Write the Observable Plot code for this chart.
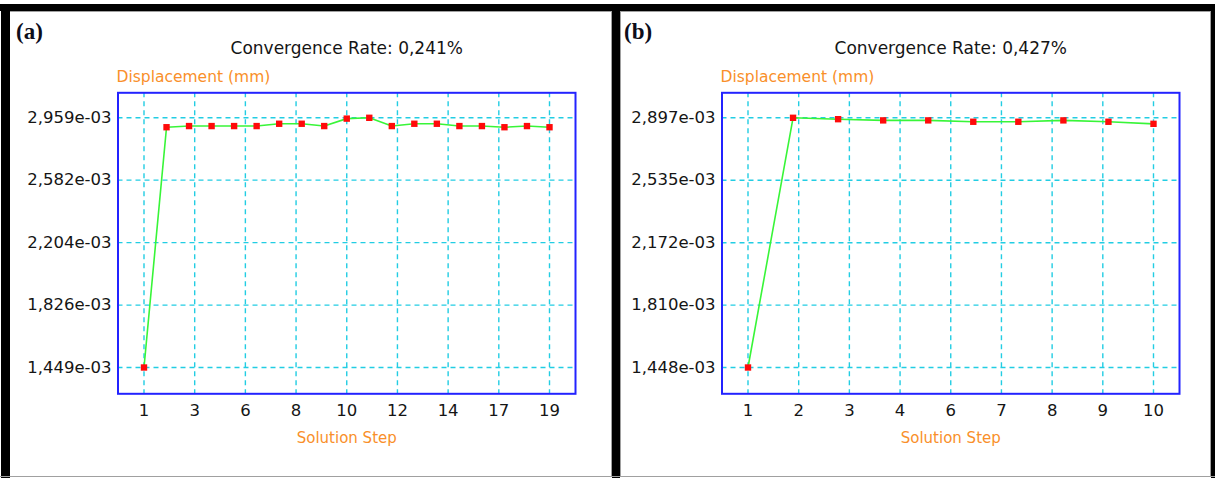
<!DOCTYPE html>
<html><head><meta charset="utf-8">
<script src="https://cdn.jsdelivr.net/npm/d3@7"></script>
<script src="https://cdn.jsdelivr.net/npm/@observablehq/plot@0.6"></script>
<style>
html,body{margin:0;padding:0;background:#fff;}
#root{position:relative;width:1215px;height:478px;overflow:hidden;background:#fff;}
.band{position:absolute;background:#000;z-index:3;}
.gray{position:absolute;background:#a0a0a0;z-index:3;}
.panel{position:absolute;top:11px;z-index:1;}
.panel svg{display:block;max-width:none;background:transparent;}
</style></head><body><div id="root"></div>
<script>
// ---- Panel (a) data ----
const stepsA = [1,2,3,4,5,6,7,8,9,10,11,12,13,14,15,16,17,18,19];
const displacementA = [1.449e-3,2.902e-3,2.909e-3,2.909e-3,2.909e-3,2.909e-3,2.923e-3,2.923e-3,2.909e-3,2.954e-3,2.959e-3,2.909e-3,2.923e-3,2.923e-3,2.909e-3,2.909e-3,2.902e-3,2.909e-3,2.902e-3];
const xGridA = [1,3.25,5.5,7.75,10,12.25,14.5,16.75,19];
const xLabelsA = ["1","3","6","8","10","12","14","17","19"];
const yGridA = [1.449e-3,1.826e-3,2.204e-3,2.582e-3,2.959e-3];
const yLabelsA = ["1,449e-03","1,826e-03","2,204e-03","2,582e-03","2,959e-03"];
const titleA = "Convergence Rate: 0,241%";

// ---- Panel (b) data ----
const stepsB = [1,2,3,4,5,6,7,8,9,10];
const displacementB = [1.448e-3,2.897e-3,2.889e-3,2.882e-3,2.882e-3,2.874e-3,2.874e-3,2.882e-3,2.874e-3,2.862e-3];
const xGridB = [1,2.125,3.25,4.375,5.5,6.625,7.75,8.875,10];
const xLabelsB = ["1","2","3","4","6","7","8","9","10"];
const yGridB = [1.448e-3,1.810e-3,2.172e-3,2.535e-3,2.897e-3];
const yLabelsB = ["1,448e-03","1,810e-03","2,172e-03","2,535e-03","2,897e-03"];
const titleB = "Convergence Rate: 0,427%";

const yLabelText = "Displacement (mm)";
const xLabelText = "Solution Step";

const COL = {grid:"#22cde3", frame:"#2323ff", line:"#38f538", dot:"#ff0a0a", orange:"#f98f2a", text:"#151515"};
const FONT = "DejaVu Sans, Verdana, sans-serif";

function panel(cfg){
  const xMap = new Map(cfg.xGrid.map((v,i)=>[v,cfg.xLabels[i]]));
  const yMap = new Map(cfg.yGrid.map((v,i)=>[v,cfg.yLabels[i]]));
  const data = cfg.steps.map((s,i)=>({step:s, value:cfg.values[i]}));
  return Plot.plot({
    width: 600, height: 465,
    marginLeft: 107.5, marginRight: 35, marginTop: 81.3, marginBottom: 82.7,
    style: {fontFamily: FONT, fontSize: "16.5px", background: "transparent", overflow: "visible"},
    x: {domain: [cfg.steps[0], cfg.steps[cfg.steps.length-1]], inset: 26},
    y: {domain: [cfg.yGrid[0], cfg.yGrid[cfg.yGrid.length-1]], insetTop: 25, insetBottom: 26.3},
    marks: [
      Plot.ruleY(cfg.yGrid, {stroke: COL.grid, strokeWidth: 1.4, strokeDasharray: "5,4"}),
      Plot.ruleX(cfg.xGrid, {stroke: COL.grid, strokeWidth: 1.4, strokeDasharray: "5,4"}),
      Plot.frame({stroke: COL.frame, strokeWidth: 2}),
      Plot.axisY({ticks: cfg.yGrid, tickFormat: d => yMap.get(d), tickSize: 0, tickPadding: 6.5, label: null, fontSize: 16.5, fill: COL.text}),
      Plot.axisX({ticks: cfg.xGrid, tickFormat: d => xMap.get(d), tickSize: 0, tickPadding: 10, label: null, fontSize: 16.5, fill: COL.text}),
      Plot.line(data, {x: "step", y: "value", stroke: COL.line, strokeWidth: 1.6}),
      Plot.dot(data, {x: "step", y: "value", symbol: "square", r: 3.6, fill: COL.dot, stroke: "none"}),
      Plot.text([cfg.title], {text: d => d, frameAnchor: "top", dy: -39, lineAnchor: "bottom", fontSize: 17, fill: COL.text}),
      Plot.text([yLabelText], {text: d => d, frameAnchor: "top-left", textAnchor: "start", dx: -1.5, dy: -11.3, lineAnchor: "bottom", fontSize: 15.5, fill: COL.orange}),
      Plot.text([xLabelText], {text: d => d, frameAnchor: "bottom", dy: 49, lineAnchor: "bottom", fontSize: 15, fill: COL.orange}),
      Plot.text([cfg.letter], {text: d => d, frameAnchor: "top-left", textAnchor: "start", dx: cfg.letterDx, dy: -54.3, lineAnchor: "bottom", fontSize: 23, fontWeight: "bold", fontFamily: "Liberation Serif, Times New Roman, serif", fill: "#0d0d1a", letterSpacing: 1.5})
    ]
  });
}

const root = document.getElementById("root");
function add(el, left){ const d=document.createElement("div"); d.className="panel"; d.style.left=left+"px"; d.appendChild(el); root.appendChild(d); }
add(panel({steps:stepsA, values:displacementA, xGrid:xGridA, xLabels:xLabelsA, yGrid:yGridA, yLabels:yLabelsA, title:titleA, letter:"(a)", letterDx:-101.9}), 10);
add(panel({steps:stepsB, values:displacementB, xGrid:xGridB, xLabels:xLabelsB, yGrid:yGridB, yLabels:yLabelsB, title:titleB, letter:"(b)", letterDx:-98}), 613.5);

// panel borders
[[0,4,1215,7,"band"],[1,4,9,474,"band"],[612,4,8,474,"band"],[1211,4,4,474,"band"],
 [0,476,1215,1,"gray"],[611,11,1,465,"gray"],[620,11,1,465,"gray"],[1210,11,1,465,"gray"],[10,11,602,1,"gray"],[620,11,591,1,"gray"]]
.forEach(([x,y,w,h,c])=>{const d=document.createElement("div");d.className=c;Object.assign(d.style,{left:x+"px",top:y+"px",width:w+"px",height:h+"px"});root.appendChild(d);});
</script></body></html>
